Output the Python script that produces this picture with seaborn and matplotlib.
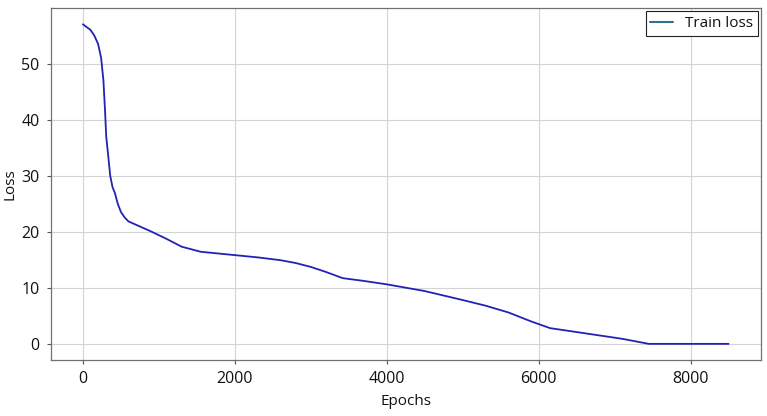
import numpy as np
import pandas as pd
import seaborn as sns
import matplotlib.pyplot as plt
from matplotlib.lines import Line2D

epochs = [0, 50, 100, 150, 200, 240, 270, 290, 307, 330, 360, 390, 420, 460,
          500, 550, 600, 700, 900, 1100, 1300, 1550, 2000, 2300, 2600, 2800,
          3000, 3200, 3420, 3700, 4000, 4500, 5000, 5300, 5600, 5900, 6150,
          6500, 6800, 7100, 7450, 8000, 8500]
loss = [57.0, 56.5, 56.0, 55.0, 53.5, 51.0, 47.0, 42.0, 37.0, 34.0, 30.0, 28.0,
        27.0, 25.0, 23.6, 22.6, 21.9, 21.3, 20.1, 18.8, 17.4, 16.5, 15.9, 15.5,
        15.0, 14.5, 13.8, 12.9, 11.8, 11.3, 10.7, 9.5, 7.9, 6.9, 5.7, 4.1, 2.9,
        2.2, 1.6, 1.0, 0.1, 0.1, 0.1]

df = pd.DataFrame({'Epochs': epochs, 'Loss': loss})

sns.set_style('whitegrid')
plt.rcParams['font.family'] = ['Open Sans', 'DejaVu Sans']
plt.rcParams['text.color'] = '#111111'
plt.rcParams['axes.labelcolor'] = '#111111'
plt.rcParams['xtick.color'] = '#111111'
plt.rcParams['ytick.color'] = '#111111'

fig, ax = plt.subplots(figsize=(7.67, 4.16), dpi=100)
sns.lineplot(data=df, x='Epochs', y='Loss', ax=ax, color='#2222b6', linewidth=1.3)

ax.grid(True, color='#d4d4d4', linewidth=0.8)
for s in ax.spines.values():
    s.set_color('#707070')
    s.set_linewidth(0.9)
ax.tick_params(axis='both', which='both', length=3, color='#555555', labelsize=11.5,
               left=True, bottom=True, pad=5)
ax.set_xticks([0, 2000, 4000, 6000, 8000])
ax.set_yticks([0, 10, 20, 30, 40, 50])
ax.set_xlabel('Epochs', fontsize=11, labelpad=5)
ax.set_ylabel('Loss', fontsize=11, labelpad=3)

handle = Line2D([], [], color='#2f7090', linewidth=1.5)
leg = ax.legend([handle], ['Train loss'], loc='upper right', fontsize=11,
                fancybox=False, framealpha=1, edgecolor='#222222',
                handlelength=1.5, borderpad=0.3, borderaxespad=0.2)
leg.get_frame().set_linewidth(0.8)

fig.subplots_adjust(left=0.066, right=0.992, top=0.98, bottom=0.135)
fig.savefig('out.png', dpi=100)
